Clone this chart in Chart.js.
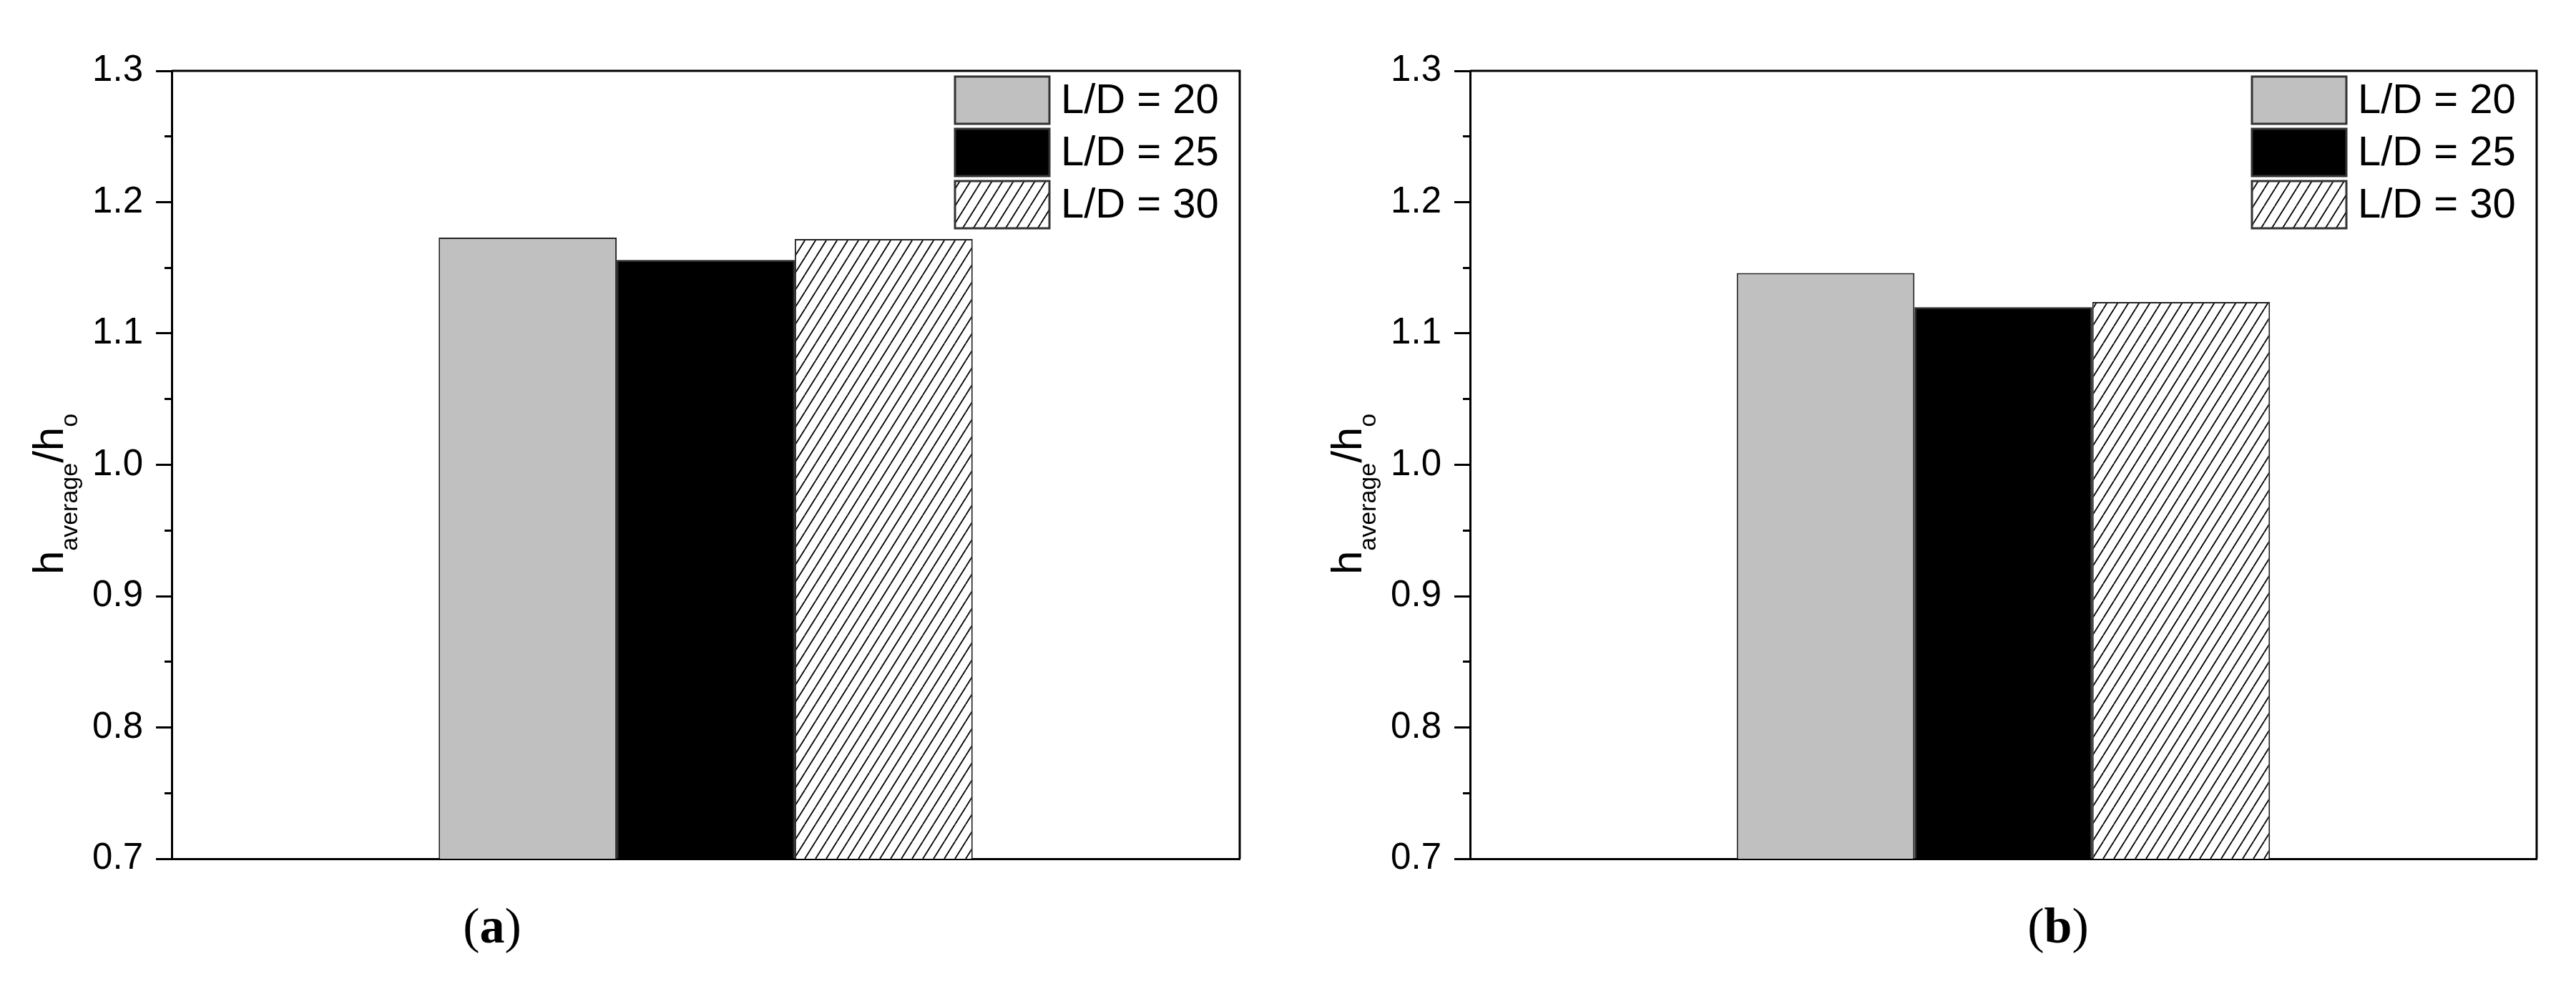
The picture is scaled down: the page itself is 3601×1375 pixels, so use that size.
<!DOCTYPE html>
<html>
<head>
<meta charset="utf-8">
<script src="https://cdn.jsdelivr.net/npm/chart.js@4.4.1/dist/chart.umd.min.js"></script>
<style>
  html, body { margin:0; padding:0; background:#fff; }
  body { width:3601px; height:1375px; position:relative; overflow:hidden; }
  canvas { position:absolute; top:0; }
  .plabel { position:absolute; font-family:'Liberation Serif','Times New Roman',serif; font-size:70px; line-height:70px; color:#000; transform:translateX(-50%); white-space:nowrap; }
</style>
</head>
<body>
<canvas id="cA" width="1800" height="1375" style="left:0px"></canvas>
<canvas id="cB" width="1801" height="1375" style="left:1800px"></canvas>
<div class="plabel" style="left:688px; top:1259px">(<b>a</b>)</div>
<div class="plabel" style="left:2877px; top:1259px">(<b>b</b>)</div>
<script>
// ---- data ----
const categories = [''];
const seriesLabels = ['L/D = 20', 'L/D = 25', 'L/D = 30'];
const valuesA = [1.173, 1.156, 1.172];
const valuesB = [1.146, 1.120, 1.124];
const yMin = 0.7, yMax = 1.3, yStep = 0.1, yMinorStep = 0.05;
const yTitleMain = ['h', '/h'];
const yTitleSub = ['average', 'o'];

Chart.defaults.font.family = "'Liberation Sans', Arial, sans-serif";
Chart.defaults.color = '#000';

function hatchPattern() {
  const w = 15, h = 24;
  const c = document.createElement('canvas');
  c.width = w; c.height = h;
  const g = c.getContext('2d');
  g.fillStyle = '#fff'; g.fillRect(0, 0, w, h);
  g.strokeStyle = '#000'; g.lineWidth = 1.8;
  for (let k = -1; k <= 1; k++) {
    g.beginPath();
    g.moveTo(k * w, h);
    g.lineTo(k * w + w, 0);
    g.stroke();
  }
  return g.createPattern(c, 'repeat');
}

const fills = ['#c0c0c0', '#000000', null];

const framePlugin = {
  id: 'frame',
  afterDatasetsDraw(chart) {
    const {ctx, chartArea: a} = chart;
    ctx.save();
    ctx.strokeStyle = '#000'; ctx.lineWidth = 3;
    ctx.beginPath();
    ctx.moveTo(a.left, a.top); ctx.lineTo(a.right, a.top); ctx.lineTo(a.right, a.bottom);
    ctx.stroke();
    ctx.restore();
  },
  afterDraw(chart) {
    const {ctx, chartArea: a} = chart;
    // legend
    ctx.save();
    const bw = 132, bh = 66, step = 73;
    const bx = a.right - 398;
    chart.data.datasets.forEach((ds, i) => {
      const by = a.top + 8 + i * step;
      ctx.fillStyle = ds.backgroundColor;
      ctx.fillRect(bx, by, bw, bh);
      ctx.strokeStyle = '#333'; ctx.lineWidth = 3;
      ctx.strokeRect(bx, by, bw, bh);
      ctx.fillStyle = '#000';
      ctx.font = "58px 'Liberation Sans', Arial, sans-serif";
      ctx.textBaseline = 'middle'; ctx.textAlign = 'left';
      ctx.fillText(ds.label, bx + bw + 16, by + bh / 2 + 2);
    });
    ctx.restore();
    // y-axis title with subscripts
    ctx.save();
    const xb = a.left - 152;
    const yc = (a.top + a.bottom) / 2 + 41;
    ctx.translate(xb, yc);
    ctx.rotate(-Math.PI / 2);
    ctx.fillStyle = '#000';
    ctx.textBaseline = 'alphabetic'; ctx.textAlign = 'left';
    const mainF = "60px 'Liberation Sans', Arial, sans-serif";
    const subF = "34px 'Liberation Sans', Arial, sans-serif";
    const parts = [[yTitleMain[0], mainF, 0], [yTitleSub[0], subF, 20], [yTitleMain[1], mainF, 0], [yTitleSub[1], subF, 20]];
    let total = 0;
    parts.forEach(p => { ctx.font = p[1]; total += ctx.measureText(p[0]).width; });
    let x = -total / 2;
    parts.forEach(p => { ctx.font = p[1]; ctx.fillText(p[0], x, p[2]); x += ctx.measureText(p[0]).width; });
    ctx.restore();
  }
};

function makeChart(id, values, pad) {
  const pat = hatchPattern();
  const datasets = seriesLabels.map((lab, i) => ({
    label: lab,
    data: [values[i]],
    backgroundColor: fills[i] || pat,
    borderColor: '#222',
    borderWidth: 2,
    borderSkipped: false,
    categoryPercentage: 0.5,
    barPercentage: 1.0,
    yAxisID: 'y'
  }));
  return new Chart(document.getElementById(id), {
    type: 'bar',
    data: { labels: categories, datasets },
    options: {
      responsive: false,
      animation: false,
      events: [],
      layout: { padding: pad },
      plugins: { legend: { display: false }, tooltip: { enabled: false } },
      scales: {
        x: {
          type: 'category',
          offset: true,
          grid: { display: false },
          ticks: { display: false },
          border: { display: true, color: '#000', width: 3 },
          afterFit(s) { s.height = 0; }
        },
        y: {
          type: 'linear',
          position: 'left',
          weight: 1,
          min: yMin, max: yMax,
          ticks: {
            stepSize: yStep,
            font: { size: 51 },
            color: '#000',
            padding: 18,
            callback: v => v.toFixed(1)
          },
          grid: { display: true, drawOnChartArea: false, drawTicks: true, tickLength: 22, tickWidth: 3, tickColor: '#000' },
          border: { display: true, color: '#000', width: 3 },
          afterFit(s) { s.width = 240; }
        },
        y2: {
          type: 'linear',
          position: 'left',
          weight: 0,
          min: yMin, max: yMax,
          ticks: { display: false, stepSize: yMinorStep },
          grid: { display: true, drawOnChartArea: false, drawTicks: true, tickLength: 10, tickWidth: 3, tickColor: '#000' },
          border: { display: false },
          afterFit(s) { s.width = 0; }
        }
      }
    },
    plugins: [framePlugin]
  });
}

makeChart('cA', valuesA, { left: 0, top: 99, right: 67, bottom: 175 });
makeChart('cB', valuesB, { left: 15, top: 99, right: 55, bottom: 175 });
</script>
</body>
</html>
